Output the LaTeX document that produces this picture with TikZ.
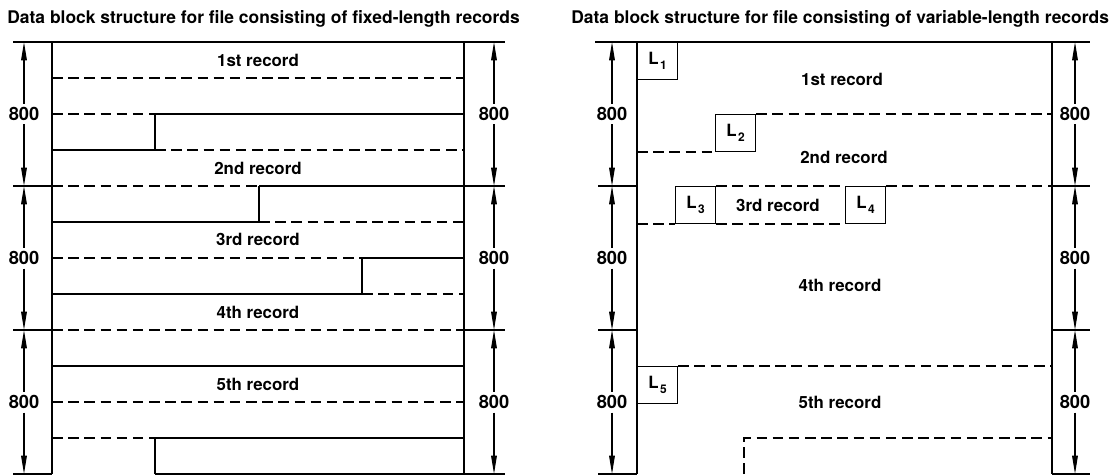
\documentclass[tikz,border=0pt]{standalone}
\usepackage{fontspec}
\setmainfont{TeX Gyre Heros}
\usetikzlibrary{arrows.meta, positioning}

\newcommand{\lfld}[1]{L\kern1pt\raisebox{-0.6ex}{\fontsize{8.5}{9}\selectfont #1}}

\begin{document}
\begin{tikzpicture}[
    x=0.025cm, y=-0.025cm,
    every node/.style = {font=\fontsize{12}{14}\selectfont\bfseries},
    ttl/.style    = {anchor=west, inner sep=0pt, font=\fontsize{12.4}{14}\selectfont\bfseries},
    rec/.style    = {inner sep=1pt},
    dimlbl/.style = {inner sep=2.5pt, font=\fontsize{13}{15}\selectfont\bfseries},
    lbox/.style   = {draw, line width=0.9pt, anchor=north west, inner sep=0pt,
                     minimum width=1cm, minimum height=0.92cm},
    recln/.style  = {line width=0.9pt},
    dashln/.style = {line width=0.9pt, dash pattern=on 7.5pt off 4pt},
    dimarr/.style = {-{Triangle[length=13pt,width=4pt]}, line width=0.8pt},
]
\useasboundingbox (0,0) rectangle (1110,474);

%% Titles
\node[ttl] (ttlfix) at (7,19)   {Data block structure for file consisting of fixed-length records};
\node[ttl] (ttlvar) at (571,19) {Data block structure for file consisting of variable-length records};

%% Block boundaries
\coordinate (bT) at (0,42);
\coordinate (b1) at (0,186);
\coordinate (b2) at (0,330);
\coordinate (b3) at (0,474);

%% Fixed-length: frame
\draw[recln] (13,42) -- (505,42);
\draw[recln] (52,42) -- (52,474);
\draw[recln] (464,42) -- (464,474);
\draw[recln] (13,186) -- (52,186) (464,186) -- (505,186);
\draw[recln] (13,330) -- (52,330) (464,330) -- (505,330);
\draw[recln] (13,474) -- (52,474) (464,474) -- (505,474);

%% Fixed-length: record borders
\draw[dashln] (52,78) -- (464,78);
\draw[dashln] (52,114) -- (155,114);
\draw[recln]  (155,114) -- (464,114);
\draw[recln]  (52,150) -- (155,150) -- (155,114);
\draw[dashln] (155,150) -- (464,150);
\draw[dashln] (52,186) -- (259,186);
\draw[recln]  (259,186) -- (464,186);
\draw[recln]  (52,222) -- (259,222) -- (259,186);
\draw[dashln] (259,222) -- (464,222);
\draw[dashln] (52,258) -- (362,258);
\draw[recln]  (362,258) -- (464,258);
\draw[recln]  (52,294) -- (362,294) -- (362,258);
\draw[dashln] (362,294) -- (464,294);
\draw[dashln] (52,330) -- (464,330);
\draw[recln]  (52,366) -- (464,366);
\draw[dashln] (52,402) -- (464,402);
\draw[dashln] (52,438) -- (155,438);
\draw[recln]  (155,474) -- (155,438) -- (464,438);
\draw[recln]  (155,474) -- (464,474);

%% Fixed-length: records
\node[rec] (recf1) at (258,60)  {1st record};
\node[rec] (recf2) at (258,168) {2nd record};
\node[rec] (recf3) at (258,239) {3rd record};
\node[rec] (recf4) at (258,312) {4th record};
\node[rec] (recf5) at (258,384) {5th record};

%% Variable-length: frame
\coordinate (vL) at (637,0);
\coordinate (vR) at (1052,0);
\draw[recln] (595,42) -- (1090,42);
\draw[recln] (637,42) -- (637,474);
\draw[recln] (1052,42) -- (1052,474);
\draw[recln] (598,186) -- (637,186) (1052,186) -- (1090,186);
\draw[recln] (598,330) -- (637,330) (1052,330) -- (1090,330);
\draw[recln] (598,474) -- (637,474) (1052,474) -- (1090,474);

%% Variable-length: length fields
\node[lbox] (l1) at (637,42)  {\lfld{1}};
\node[lbox] (l2) at (715,114) {\lfld{2}};
\node[lbox] (l3) at (675,186) {\lfld{3}};
\node[lbox] (l4) at (845,186) {\lfld{4}};
\node[lbox] (l5) at (637,366) {\lfld{5}};

%% Variable-length: record borders
\draw[dashln] (l2.north east) -- (l2.north east -| vR);
\draw[dashln] (l2.south west -| vL) -- (l2.south west);
\draw[dashln] (l3.north east) -- (l4.north west);
\draw[dashln] (l4.north east) -- (l4.north east -| vR);
\draw[dashln] (l3.south west -| vL) -- (l3.south west);
\draw[dashln] (l3.south east) -- (l4.south west);
\draw[dashln] (l5.north east) -- (l5.north east -| vR);
\draw[dashln] (744,474) -- (744,438) -- (1052,438);

%% Variable-length: records
\node[rec] (recv1) at (842,79)  {1st record};
\node[rec] (recv2) at (844,157) {2nd record};
\node[rec] (recv3) at (778,205) {3rd record};
\node[rec] (recv4) at (840,285) {4th record};
\node[rec] (recv5) at (840,402) {5th record};

%% Dimensions
\node[dimlbl] (dfa1) at (24,114)   {800};
\node[dimlbl] (dfa2) at (24,258)   {800};
\node[dimlbl] (dfa3) at (24,402)   {800};
\node[dimlbl] (dfb1) at (494,114)  {800};
\node[dimlbl] (dfb2) at (494,258)  {800};
\node[dimlbl] (dfb3) at (494,402)  {800};
\node[dimlbl] (dva1) at (612,114)  {800};
\node[dimlbl] (dva2) at (612,258)  {800};
\node[dimlbl] (dva3) at (612,402)  {800};
\node[dimlbl] (dvb1) at (1075,114) {800};
\node[dimlbl] (dvb2) at (1075,258) {800};
\node[dimlbl] (dvb3) at (1075,402) {800};

\draw[dimarr] (dfa1) -- (dfa1 |- bT);  \draw[dimarr] (dfa1) -- (dfa1 |- b1);
\draw[dimarr] (dfa2) -- (dfa2 |- b1);  \draw[dimarr] (dfa2) -- (dfa2 |- b2);
\draw[dimarr] (dfa3) -- (dfa3 |- b2);  \draw[dimarr] (dfa3) -- (dfa3 |- b3);
\draw[dimarr] (dfb1) -- (dfb1 |- bT);  \draw[dimarr] (dfb1) -- (dfb1 |- b1);
\draw[dimarr] (dfb2) -- (dfb2 |- b1);  \draw[dimarr] (dfb2) -- (dfb2 |- b2);
\draw[dimarr] (dfb3) -- (dfb3 |- b2);  \draw[dimarr] (dfb3) -- (dfb3 |- b3);
\draw[dimarr] (dva1) -- (dva1 |- bT);  \draw[dimarr] (dva1) -- (dva1 |- b1);
\draw[dimarr] (dva2) -- (dva2 |- b1);  \draw[dimarr] (dva2) -- (dva2 |- b2);
\draw[dimarr] (dva3) -- (dva3 |- b2);  \draw[dimarr] (dva3) -- (dva3 |- b3);
\draw[dimarr] (dvb1) -- (dvb1 |- bT);  \draw[dimarr] (dvb1) -- (dvb1 |- b1);
\draw[dimarr] (dvb2) -- (dvb2 |- b1);  \draw[dimarr] (dvb2) -- (dvb2 |- b2);
\draw[dimarr] (dvb3) -- (dvb3 |- b2);  \draw[dimarr] (dvb3) -- (dvb3 |- b3);

\end{tikzpicture}
\end{document}
